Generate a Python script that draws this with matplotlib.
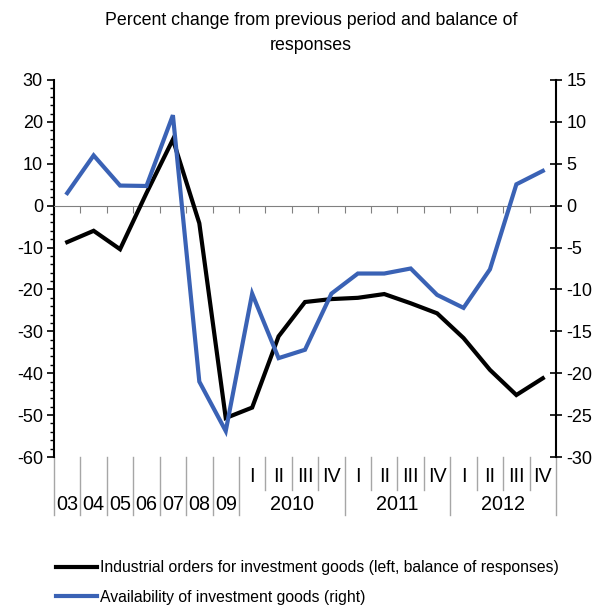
import matplotlib
matplotlib.use("Agg")
import matplotlib.pyplot as plt
import matplotlib.transforms as mtransforms
import numpy as np

plt.rcParams['font.family'] = ['Liberation Sans', 'DejaVu Sans']

# ---- data ----
years_single = ["03", "04", "05", "06", "07", "08", "09"]
quarter_years = ["2010", "2011", "2012"]
quarters = ["I", "II", "III", "IV"]

orders = [-8.7, -6.0, -10.4, 3.0, 15.8, -4.2, -50.7,
          -48.2, -31.2, -23.0, -22.3,
          -22.0, -21.1, -23.3, -25.7,
          -31.6, -39.2, -45.2, -41.2]
availability = [1.5, 6.0, 2.4, 2.35, 10.8, -21.0, -26.9,
                -10.5, -18.2, -17.2, -10.5,
                -8.1, -8.1, -7.5, -10.65,
                -12.2, -7.6, 2.55, 4.15]

title = "Percent change from previous period and balance of\nresponses"
label_orders = "Industrial orders for investment goods (left, balance of responses)"
label_avail = "Availability of investment goods (right)"

black = "#000000"
blue = "#3a62b5"
sep_col = "#a6a6a6"

n = len(orders)
x = np.arange(n) + 0.5

fig = plt.figure(figsize=(6.04, 6.07), dpi=100)
ax = fig.add_axes([54/604, 1-457/607, (556-54)/604, (457-80)/607])
ax2 = ax.twinx()

l1, = ax.plot(x, orders, color=black, lw=3, solid_joinstyle='miter', zorder=3)
l2, = ax2.plot(x, availability, color=blue, lw=3, solid_joinstyle='miter', zorder=3)

ax.set_xlim(0, n)
ax.set_ylim(-60, 30)
ax2.set_ylim(-30, 15)
ax.set_yticks(np.arange(-60, 31, 10))
ax.set_yticks(np.arange(-60, 31, 2), minor=True)
ax2.set_yticks(np.arange(-30, 16, 5))

for a in (ax, ax2):
    a.spines['top'].set_visible(False)
    a.patch.set_visible(False)
ax2.spines['bottom'].set_visible(False)
ax2.spines['left'].set_visible(False)
ax.spines['right'].set_visible(False)
ax.spines['left'].set_linewidth(1.5)
ax2.spines['right'].set_linewidth(1.5)

ax.spines['bottom'].set_position(('data', 0))
ax.spines['bottom'].set_color('#808080')
ax.spines['bottom'].set_linewidth(0.8)
ax.set_xticks(np.arange(1, n))
ax.set_xticklabels([])
ax.tick_params(axis='x', direction='out', length=5, width=0.8, color='#808080')

ax.tick_params(axis='y', which='major', direction='out', length=5, width=1.2, labelsize=13, pad=3)
ax.tick_params(axis='y', which='minor', direction='out', length=3, width=1.0)
ax2.tick_params(axis='y', which='major', direction='inout', length=9, width=1.2, labelsize=13, pad=3)
ax.set_yticklabels([str(v) for v in range(-60, 31, 10)])
ax2.set_yticklabels([str(v) for v in range(-30, 16, 5)])

# category axis below the plot
trans = mtransforms.blended_transform_factory(ax.transData, ax.transAxes)
y_q = -19/377
y_y = -48/377
y_short = -33/377
y_long = -58/377
cat_fs = 14.2

for i, lab in enumerate(years_single):
    ax.text(i + 0.5, y_y, lab, transform=trans, ha='center', va='center', fontsize=cat_fs)
for i in range(len(years_single) + 1):
    ax.plot([i, i], [0, y_long], transform=trans, color=sep_col, lw=1, clip_on=False)

start = len(years_single)
for k, yl in enumerate(quarter_years):
    base = start + 4 * k
    for j, q in enumerate(quarters):
        ax.text(base + j + 0.5, y_q, q, transform=trans, ha='center', va='center', fontsize=cat_fs)
        if j > 0:
            ax.plot([base + j, base + j], [0, y_short], transform=trans, color=sep_col, lw=1, clip_on=False)
    ax.text(base + 2, y_y, yl, transform=trans, ha='center', va='center', fontsize=cat_fs)
    ax.plot([base + 4, base + 4], [0, y_long], transform=trans, color=sep_col, lw=1, clip_on=False)

fig.text(311/604, 1-33/607, title, ha='center', va='center', fontsize=12.8, linespacing=1.55)

fig.legend([l1, l2], [label_orders, label_avail], loc='upper left',
           bbox_to_anchor=(56/604, 1-560/607), frameon=False, fontsize=11.3,
           handlelength=2.6, handletextpad=0.2, labelspacing=0.95, borderpad=0,
           borderaxespad=0)

fig.savefig("out.png", dpi=100)
